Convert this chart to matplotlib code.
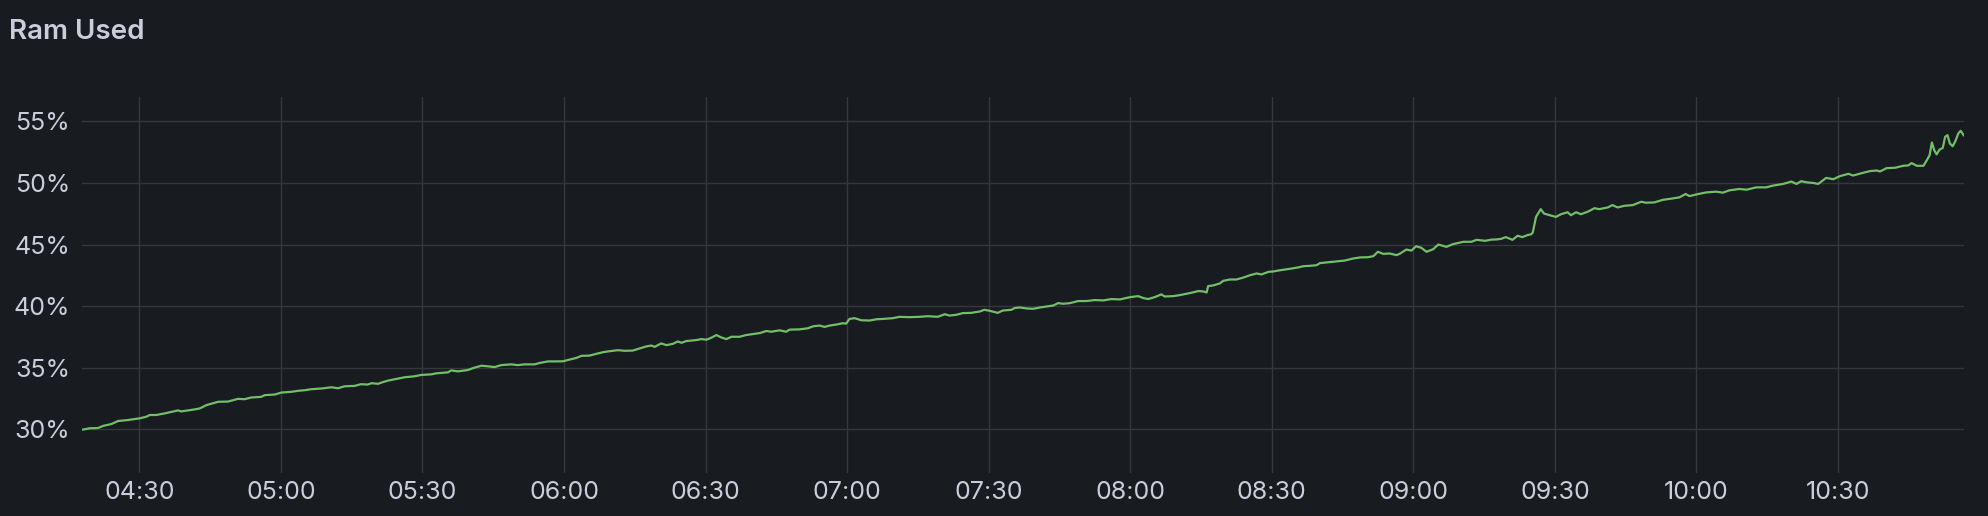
import datetime as dt
import matplotlib
matplotlib.use("Agg")
import matplotlib.pyplot as plt
import matplotlib.dates as mdates

# ---- data: minutes after 04:30 and RAM used (%) ----
minutes = [
    -12.3, -10.5, -8.8, -7.7, -5.9, -4.5, -2.4, 0.1, 1.5, 2.2, 3.6, 5.4, 8.2, 8.9,
    11.7, 12.8, 14.2, 16.0, 16.7, 18.8, 20.9, 22.3, 23.7, 25.8, 26.6, 28.7, 30.1,
    32.2, 33.6, 35.0, 36.4, 38.6, 40.7, 42.1, 43.5, 45.6, 47.0, 48.4, 49.2, 50.6,
    51.3, 52.7, 54.8, 56.2, 58.3, 59.7, 61.9, 62.9, 65.4, 66.1, 67.5, 69.6, 71.0,
    72.5, 73.9, 75.3, 76.7, 78.8, 80.2, 81.6, 83.8, 84.8, 86.6, 88.3,
    89.8, 91.2, 92.6, 93.7, 95.4, 96.5, 98.3, 99.7, 101.4, 102.9, 104.6, 106.0,
    107.4, 108.5, 109.2, 110.6, 111.7, 113.1, 114.1, 114.9, 115.9, 118.0, 119.1,
    120.2, 121.2, 122.3, 123.3, 124.4, 125.5, 127.2, 128.6, 130.0, 131.5, 132.9,
    133.9, 135.7, 137.1, 137.8, 139.9, 141.7, 142.8, 144.2, 145.2, 146.3, 147.7,
    149.1, 149.8, 150.5, 151.6, 153.0, 154.8, 156.2, 157.6, 159.7, 161.1, 163.2,
    165.4, 167.1, 169.2, 170.7, 171.7, 173.1, 174.5, 176.3, 178.1, 179.1, 180.2,
    181.9, 183.0, 184.8, 185.5, 186.6,
    188.0, 189.4, 190.9, 192.3, 193.7, 194.7, 195.8, 197.2, 199.0, 200.7, 202.5,
    204.3, 206.0, 207.8, 210.0, 211.7, 212.8, 213.8, 215.2, 216.6, 217.3, 219.1,
    220.5, 221.9, 223.3, 224.4, 225.5, 226.2, 226.5, 227.6, 229.0, 229.7, 231.1,
    232.5, 234.0, 235.4, 236.8, 237.8, 239.3, 240.3, 241.4, 242.8, 244.2, 245.6,
    246.7, 248.1, 249.5, 250.2, 252.3, 253.7, 255.5, 257.2, 258.7, 260.4, 261.5,
    262.5, 263.6, 265.0, 266.4, 267.1, 268.5, 269.6, 270.6, 271.7, 272.8, 274.2,
    275.3, 277.0, 278.4, 280.6, 282.3, 283.4, 285.2, 286.6,
    287.6, 288.6, 289.6, 291.0, 292.1, 293.1, 294.2, 294.9, 295.3, 296.0, 297.0,
    297.7, 299.2, 300.2, 301.3, 302.7, 303.4, 304.5, 305.5, 306.9, 308.4, 309.4,
    311.2, 312.2, 313.3, 314.7, 316.5, 318.3, 319.3, 321.1, 322.9, 324.6, 326.4,
    327.7, 328.5, 330.4, 332.1, 334.2, 335.6, 337.0, 339.1, 340.6, 342.7, 344.8,
    346.2, 348.4, 350.1, 351.2, 352.2, 353.3, 354.7, 355.8, 357.5, 359.0, 360.4,
    362.2, 363.2, 365.0, 366.8, 368.2, 368.9, 370.3, 372.1, 373.8, 374.9, 375.6,
    376.7, 378.1, 378.8, 379.4, 379.9, 380.4, 380.9, 381.5, 382.2, 382.7, 383.2,
    383.7, 384.3, 384.8, 385.5, 386.0, 386.6,
]
ram_pct = [
    29.95, 30.08, 30.10, 30.27, 30.43, 30.67, 30.75, 30.89, 31.02, 31.16, 31.16,
    31.29, 31.53, 31.45, 31.61, 31.69, 31.96, 32.15, 32.23, 32.25, 32.47, 32.44,
    32.58, 32.63, 32.77, 32.82, 32.98, 33.04, 33.12, 33.17, 33.25, 33.31, 33.41,
    33.33, 33.49, 33.52, 33.66, 33.63, 33.74, 33.69, 33.79, 33.95, 34.11, 34.22,
    34.30, 34.41, 34.46, 34.54, 34.62, 34.78, 34.70, 34.81, 35.00, 35.16, 35.11,
    35.05, 35.21, 35.27, 35.21, 35.27, 35.27, 35.38, 35.51, 35.51,
    35.52, 35.66, 35.79, 35.96, 35.98, 36.09, 36.26, 36.34, 36.42, 36.37, 36.39,
    36.56, 36.72, 36.80, 36.69, 36.97, 36.83, 36.94, 37.13, 37.02, 37.16, 37.24,
    37.32, 37.27, 37.43, 37.65, 37.46, 37.32, 37.51, 37.51, 37.65, 37.73, 37.81,
    37.98, 37.92, 38.03, 37.92, 38.09, 38.11, 38.20, 38.36, 38.42, 38.31, 38.42,
    38.50, 38.61, 38.58, 38.96, 39.02, 38.85, 38.83, 38.93, 38.96, 39.02, 39.13,
    39.10, 39.13, 39.18, 39.13, 39.34, 39.23, 39.29, 39.43, 39.45, 39.56, 39.70,
    39.62, 39.45, 39.64, 39.70, 39.84, 39.89,
    39.81, 39.78, 39.89, 39.97, 40.05, 40.24, 40.19, 40.24, 40.41, 40.41, 40.49,
    40.46, 40.57, 40.54, 40.73, 40.81, 40.65, 40.57, 40.73, 40.95, 40.78, 40.81,
    40.89, 41.00, 41.11, 41.22, 41.19, 41.11, 41.62, 41.68, 41.84, 42.05, 42.16,
    42.16, 42.32, 42.51, 42.65, 42.57, 42.78, 42.81, 42.89, 42.97, 43.05, 43.14,
    43.24, 43.27, 43.32, 43.49, 43.57, 43.62, 43.70, 43.86, 43.95, 43.97, 44.05,
    44.41, 44.24, 44.27, 44.14, 44.24, 44.59, 44.51, 44.86, 44.73, 44.41, 44.62,
    45.00, 44.81, 45.03, 45.22, 45.22, 45.38, 45.30, 45.40,
    45.41, 45.46, 45.60, 45.38, 45.71, 45.60, 45.77, 45.82, 45.96, 47.24, 47.87,
    47.51, 47.35, 47.24, 47.46, 47.62, 47.38, 47.62, 47.46, 47.65, 47.95, 47.87,
    48.01, 48.20, 48.01, 48.14, 48.20, 48.47, 48.39, 48.42, 48.63, 48.72, 48.83,
    49.10, 48.93, 49.10, 49.23, 49.29, 49.21, 49.40, 49.51, 49.45, 49.64, 49.64,
    49.78, 49.92, 50.11, 49.92, 50.14, 50.05, 50.00, 49.92, 50.41, 50.30, 50.55,
    50.74, 50.60, 50.79, 50.96, 51.01, 50.93, 51.20, 51.23, 51.39, 51.42, 51.61,
    51.39, 51.39, 51.83, 52.24, 53.28, 52.65, 52.32, 52.70, 52.84, 53.74, 53.88,
    53.20, 52.98, 53.33, 54.02, 54.23, 53.88,
]
y_ticks = [30, 35, 40, 45, 50, 55]
title = "Ram Used"

BG = "#181b1f"
TXT = "#ccccdc"
GRID = "#34373c"
LINE = "#73bf69"

plt.rcParams["font.family"] = ["Inter", "DejaVu Sans"]

base = dt.datetime(2024, 1, 1, 4, 30)
times = [base + dt.timedelta(minutes=m) for m in minutes]

fig = plt.figure(figsize=(19.88, 5.16), dpi=100, facecolor=BG)
ax = fig.add_axes([82 / 1988, 1 - 473 / 516, (1964 - 82) / 1988, (473 - 96.7) / 516])
ax.set_facecolor(BG)

ax.plot(times, ram_pct, color=LINE, lw=1.6, solid_joinstyle="round")

ax.set_xlim(base + dt.timedelta(minutes=-12.15), base + dt.timedelta(minutes=386.7))
ax.set_ylim(26.45, 57.0)

ax.xaxis.set_major_locator(mdates.MinuteLocator(byminute=[0, 30]))
ax.xaxis.set_major_formatter(mdates.DateFormatter("%H:%M"))
ax.set_yticks(y_ticks)
ax.set_yticklabels([f"{v}%" for v in y_ticks])

ax.grid(True, color=GRID, lw=1.0)
ax.set_axisbelow(True)
for s in ax.spines.values():
    s.set_visible(False)
ax.tick_params(axis="both", length=0, colors=TXT, labelsize=18)
ax.tick_params(axis="y", pad=8.6)
ax.tick_params(axis="x", pad=5.5)

fig.text(9 / 1988, 1 - 32 / 516, title, color=TXT, fontsize=20, fontweight="semibold",
         ha="left", va="center")

fig.savefig("out.png", dpi=100, facecolor=BG)
